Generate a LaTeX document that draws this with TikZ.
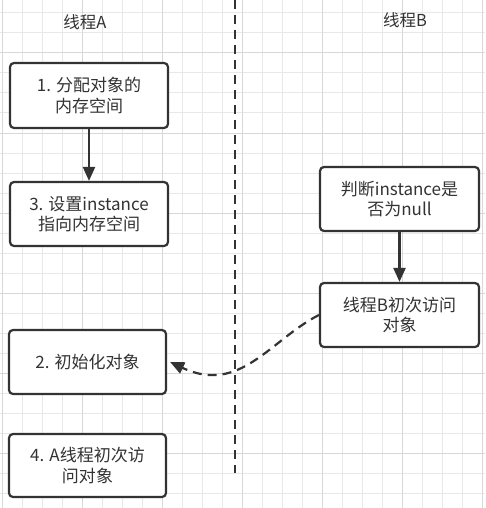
\documentclass[tikz,border=0pt]{standalone}
\usepackage{fontspec}
\setmainfont{Noto Sans CJK SC}
\usetikzlibrary{arrows.meta}
\definecolor{minorgrid}{HTML}{E8E8E8}
\definecolor{majorgrid}{HTML}{D8D8D8}
\definecolor{ink}{HTML}{333333}
\begin{document}
\begin{tikzpicture}[x=1pt,y=-1pt,
  stepbox/.style={draw=ink,line width=2.2pt,rounded corners=4pt,fill=white,
    align=center,inner sep=0pt,text=ink,font=\fontsize{17}{20.5}\selectfont},
  title/.style={text=ink,font=\fontsize{16.5}{20}\selectfont,inner sep=0pt},
  flow/.style={draw=ink,line width=2.2pt,-{Triangle[length=14pt,width=12pt]}},
  lane/.style={draw=ink,line width=2.2pt,dash pattern=on 9pt off 6pt},
  jump/.style={draw=ink,line width=2.2pt,dash pattern=on 9pt off 6pt,-{Triangle[length=14pt,width=12pt]}}]
\useasboundingbox (0,0) rectangle (485,508);
\fill[white] (0,0) rectangle (485,508);
% grid
\foreach \gx in {2,22,...,482} \draw[minorgrid,line width=1pt] (\gx,0) -- (\gx,508);
\foreach \gy in {13,33,...,500} \draw[minorgrid,line width=1pt] (0,\gy) -- (485,\gy);
\foreach \gx in {2,82,...,482} \draw[majorgrid,line width=1pt] (\gx,0) -- (\gx,508);
\foreach \gy in {53,133,...,500} \draw[majorgrid,line width=1pt] (0,\gy) -- (485,\gy);
% lane divider
\coordinate (ltop) at (235,0);
\coordinate (lbot) at (235,473);
\draw[lane] (ltop) -- (lbot);
% titles
\node[title] (ta) at (85,22) {线程A};
\node[title] (tb) at (405,20) {线程B};
% thread A
\node[stepbox,minimum width=158pt,minimum height=65pt] (a1) at (89,95.5) {1. 分配对象的\\内存空间};
\node[stepbox,minimum width=158pt,minimum height=64pt] (a3) at (89,214) {3. 设置instance\\指向内存空间};
\node[stepbox,minimum width=157pt,minimum height=64pt] (a2) at (87.5,362) {2. 初始化对象};
\node[stepbox,minimum width=157pt,minimum height=63pt] (a4) at (87.5,465.5) {4. A线程初次访\\问对象};
% thread B
\node[stepbox,minimum width=159pt,minimum height=64pt] (b1) at (399.5,199) {判断instance是\\否为null};
\node[stepbox,minimum width=159pt,minimum height=64pt] (b2) at (399.5,315) {线程B初次访问\\对象};
% connectors
\draw[flow] (a1.south) -- (a3.north);
\draw[flow] (b1.south) -- (b2.north);
\draw[jump] (b2.west) .. controls (270,340) and (240,395) .. ([xshift=3pt]a2.east);
\end{tikzpicture}
\end{document}
